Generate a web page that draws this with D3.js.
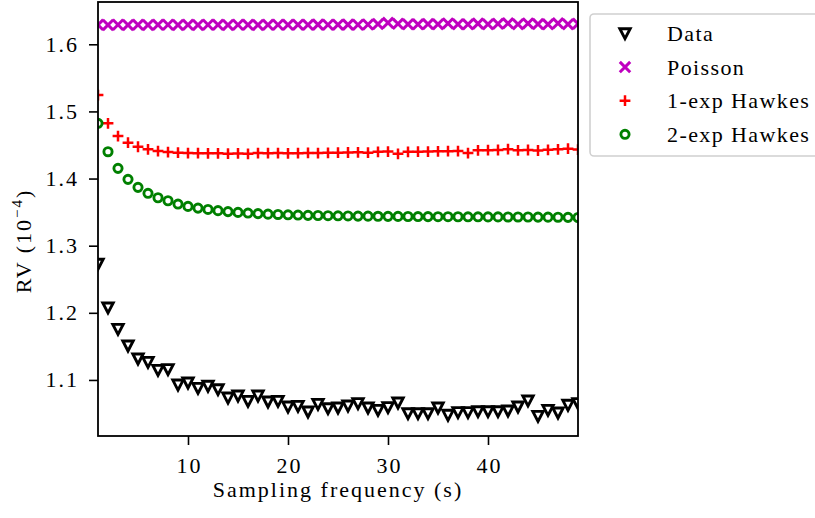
<!DOCTYPE html>
<html>
<head>
<meta charset="utf-8">
<script src="https://cdn.jsdelivr.net/npm/d3@7"></script>
<style>
  body { margin: 0; background: #fff; }
  svg text { font-family: "Liberation Serif", "Times New Roman", "DejaVu Serif", serif !important; letter-spacing: 2px; }
</style>
</head>
<body>
<svg id="chart" width="815" height="518"></svg>
<script>
// Sampling frequency (s), 1..49
const freqs = d3.range(1, 50);

const dataRV = [1.2726, 1.2075, 1.1757, 1.1508, 1.1315, 1.1265, 1.1146, 1.1156, 1.0927, 1.0957,
  1.0878, 1.0908, 1.0858, 1.0733, 1.0763, 1.0684, 1.0763, 1.0674, 1.0684, 1.0599,
  1.0609, 1.0525, 1.0639, 1.0575, 1.0585, 1.0614, 1.0650, 1.0585, 1.0550, 1.0590,
  1.0659, 1.0500, 1.0500, 1.0500, 1.0585, 1.0476, 1.0516, 1.0516, 1.0530, 1.0530,
  1.0530, 1.0540, 1.0600, 1.0690, 1.0460, 1.0550, 1.0510, 1.0625, 1.0650];

const poissonRV = [1.6290, 1.6288, 1.6291, 1.6289, 1.6290, 1.6288, 1.6290, 1.6291, 1.6289, 1.6290,
  1.6289, 1.6291, 1.6290, 1.6289, 1.6291, 1.6290, 1.6289, 1.6290, 1.6291, 1.6290,
  1.6292, 1.6290, 1.6293, 1.6291, 1.6292, 1.6293, 1.6291, 1.6295, 1.6302, 1.6320,
  1.6305, 1.6300, 1.6298, 1.6302, 1.6300, 1.6310, 1.6300, 1.6298, 1.6308, 1.6300,
  1.6305, 1.6312, 1.6300, 1.6310, 1.6302, 1.6298, 1.6312, 1.6300, 1.6305];

const hawkes1RV = [1.5244, 1.4823, 1.4633, 1.4534, 1.4474, 1.4435, 1.4410, 1.4395, 1.4385, 1.4380,
  1.4378, 1.4376, 1.4376, 1.4370, 1.4375, 1.4368, 1.4380, 1.4378, 1.4380, 1.4376,
  1.4378, 1.4382, 1.4380, 1.4384, 1.4386, 1.4388, 1.4390, 1.4385, 1.4398, 1.4402,
  1.4368, 1.4398, 1.4400, 1.4402, 1.4405, 1.4408, 1.4410, 1.4380, 1.4420, 1.4422,
  1.4425, 1.4438, 1.4420, 1.4425, 1.4418, 1.4428, 1.4435, 1.4445, 1.4432];

const hawkes2RV = [1.4823, 1.4400, 1.4152, 1.3988, 1.3869, 1.3780, 1.3714, 1.3669, 1.3620, 1.3585,
  1.3560, 1.3540, 1.3522, 1.3508, 1.3496, 1.3486, 1.3478, 1.3470, 1.3465, 1.3460,
  1.3456, 1.3452, 1.3450, 1.3447, 1.3445, 1.3443, 1.3441, 1.3440, 1.3438, 1.3437,
  1.3436, 1.3435, 1.3434, 1.3433, 1.3432, 1.3432, 1.3431, 1.3430, 1.3430, 1.3429,
  1.3429, 1.3428, 1.3428, 1.3427, 1.3426, 1.3425, 1.3424, 1.3422, 1.3420];

const xTicks = [10, 20, 30, 40];
const yTicks = [1.1, 1.2, 1.3, 1.4, 1.5, 1.6];

const series = [
  {name: 'Data', values: dataRV, marker: 'tri', color: '#000000'},
  {name: 'Poisson', values: poissonRV, marker: 'x', color: '#bf00bf'},
  {name: '1-exp Hawkes', values: hawkes1RV, marker: 'plus', color: '#ff0000'},
  {name: '2-exp Hawkes', values: hawkes2RV, marker: 'circle', color: '#008000'}
];

// plot box
const pLeft = 98, pRight = 578, pTop = 2, pBottom = 436;

const svg = d3.select('#chart');

const x = d3.scaleLinear().domain([1, 49]).range([pLeft, pRight]);
const y = d3.scaleLinear().domain([1.0165, 1.663]).range([pBottom, pTop]);

// marker shapes
function markerPath(type) {
  const p = d3.path();
  if (type === 'tri') {
    p.moveTo(-5.2, -4.8); p.lineTo(5.2, -4.8); p.lineTo(0, 5.2); p.closePath();
  } else if (type === 'x') {
    p.moveTo(-5.2, -5.2); p.lineTo(5.2, 5.2);
    p.moveTo(-5.2, 5.2); p.lineTo(5.2, -5.2);
  } else if (type === 'plus') {
    p.moveTo(-5.4, 0); p.lineTo(5.4, 0);
    p.moveTo(0, -5.4); p.lineTo(0, 5.4);
  } else {
    p.arc(0, 0, 4.1, 0, 2 * Math.PI);
  }
  return p.toString();
}

function styleMarker(sel, s) {
  sel.attr('d', markerPath(s.marker))
     .attr('stroke', s.color)
     .attr('stroke-width', s.marker === 'x' ? 3 : (s.marker === 'plus' ? 2.5 : 2.9))
     .attr('fill', (s.marker === 'tri' || s.marker === 'circle') ? '#fff' : 'none')
     .attr('stroke-linejoin', 'miter');
}

svg.append('defs').append('clipPath').attr('id', 'plotclip')
  .append('rect')
  .attr('x', pLeft).attr('y', pTop)
  .attr('width', pRight - pLeft).attr('height', pBottom - pTop);

const plot = svg.append('g').attr('clip-path', 'url(#plotclip)');

series.forEach(s => {
  plot.append('g')
    .selectAll('path')
    .data(s.values)
    .enter()
    .append('path')
    .attr('transform', (d, i) => `translate(${x(freqs[i])},${y(d)})`)
    .call(styleMarker, s);
});

// axes
const xAxis = svg.append('g')
  .attr('transform', `translate(0,${pBottom})`)
  .call(d3.axisBottom(x).tickValues(xTicks).tickSize(9).tickPadding(12).tickFormat(d3.format('d')));

const yAxis = svg.append('g')
  .attr('transform', `translate(${pLeft},0)`)
  .call(d3.axisLeft(y).tickValues(yTicks).tickSize(9).tickPadding(10).tickFormat(d3.format('.1f')));

[xAxis, yAxis].forEach(ax => {
  ax.attr('font-family', null).attr('font-size', null);
  ax.select('.domain').remove();
  ax.selectAll('line').attr('stroke', '#000').attr('stroke-width', 1.6);
  ax.selectAll('text').attr('fill', '#000').style('font-size', '22px');
});
xAxis.selectAll('text').attr('dx', '1px');

// frame
svg.append('rect')
  .attr('x', pLeft).attr('y', pTop)
  .attr('width', pRight - pLeft).attr('height', pBottom - pTop)
  .attr('fill', 'none').attr('stroke', '#000').attr('stroke-width', 1.8);

// axis labels
svg.append('text')
  .attr('x', (pLeft + pRight) / 2).attr('y', 497)
  .attr('text-anchor', 'middle')
  .style('font-size', '22px')
  .text('Sampling frequency (s)');

const yl = svg.append('text')
  .attr('transform', 'translate(31,241) rotate(-90)')
  .attr('text-anchor', 'middle')
  .style('font-size', '22px');
yl.append('tspan').text('RV (10');
yl.append('tspan').attr('dy', -9).style('font-size', '15px').text('−4');
yl.append('tspan').attr('dy', 9).text(')');

// legend
const legend = svg.append('g');
legend.append('rect')
  .attr('x', 590).attr('y', 14)
  .attr('width', 260).attr('height', 142)
  .attr('rx', 4)
  .attr('fill', '#fff').attr('stroke', '#d0d0d0').attr('stroke-width', 1.6);

const rows = legend.selectAll('g.row')
  .data(series)
  .enter()
  .append('g')
  .attr('class', 'row')
  .attr('transform', (d, i) => `translate(625,${33.5 + i * 33.6})`);

rows.each(function(s) {
  d3.select(this).append('path').call(styleMarker, s);
});

rows.append('text')
  .attr('x', 42).attr('y', 7.5)
  .style('font-size', '22px')
  .style('letter-spacing', '1.4px')
  .text(d => d.name);
</script>
</body>
</html>
